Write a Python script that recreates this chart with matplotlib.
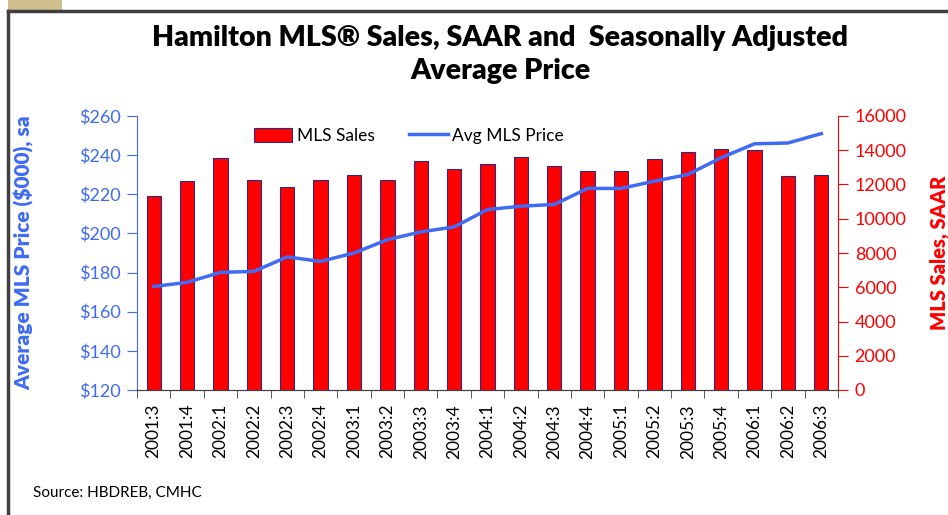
import matplotlib.pyplot as plt
import matplotlib.patches as mpatches
import numpy as np

plt.rcParams['font.family'] = ['Lato', 'DejaVu Sans']

# Data
quarters = ['2001:3', '2001:4', '2002:1', '2002:2', '2002:3', '2002:4',
            '2003:1', '2003:2', '2003:3', '2003:4', '2004:1', '2004:2',
            '2004:3', '2004:4', '2005:1', '2005:2', '2005:3', '2005:4',
            '2006:1', '2006:2', '2006:3']
mls_sales = [11350, 12190, 13520, 12250, 11860, 12250, 12570, 12290, 13400,
             12920, 13170, 13620, 13070, 12800, 12800, 13460, 13910, 14050,
             14010, 12470, 12570]
avg_price = [172.9, 175.0, 180.1, 180.6, 188.0, 185.7, 190.0, 196.8, 200.8,
             203.3, 212.2, 213.9, 214.8, 223.0, 223.0, 226.7, 230.1, 238.7,
             245.8, 246.2, 251.0]

blue = '#3F6BF5'
red = '#FF0000'

fig = plt.figure(figsize=(9.48, 5.15), dpi=100)

# frame decorations
fig.add_artist(mpatches.Rectangle((8 / 948, 1 - 10 / 515), 54 / 948, 10 / 515,
                                  transform=fig.transFigure, color='#CFBF8F', lw=0))
fig.add_artist(plt.Line2D([8 / 948, 1], [1 - 11 / 515] * 2, transform=fig.transFigure,
                          color='#404040', lw=2.5))
fig.add_artist(plt.Line2D([8 / 948] * 2, [0, 1 - 11 / 515], transform=fig.transFigure,
                          color='#404040', lw=2.5))

ax = fig.add_axes([137 / 948, 1 - 390 / 515, 701 / 948, 274 / 515])
ax2 = ax.twinx()
ax.set_zorder(ax2.get_zorder() + 1)
ax.patch.set_visible(False)

x = np.arange(len(quarters))
bars = ax2.bar(x, mls_sales, width=0.43, color=red, edgecolor='#2B2B7F', lw=0.8,
               label='MLS Sales')
line, = ax.plot(x, avg_price, color=blue, lw=2.5, label='Avg MLS Price')

ax.set_xlim(-0.5, len(quarters) - 0.5)
ax.set_ylim(120, 260)
ax.set_yticks(np.arange(120, 261, 20))
ax.set_yticklabels(['$%d' % v for v in range(120, 261, 20)])
ax2.set_ylim(0, 16000)
ax2.set_yticks(np.arange(0, 16001, 2000))

ax.set_xticks(x)
ax.set_xticklabels(quarters, rotation=90, fontsize=12.5)
ax.set_xticks(np.arange(-0.5, len(quarters), 1), minor=True)
ax.tick_params(axis='x', which='major', length=0, pad=10)
ax.tick_params(axis='x', which='minor', length=6, color='#404040')

ax.tick_params(axis='y', colors=blue, labelsize=13, length=7, direction='out', pad=5)
ax2.tick_params(axis='y', colors=red, labelsize=13, length=7, direction='out', pad=5)
for a in (ax, ax2):
    a.spines['top'].set_visible(False)
    a.spines['bottom'].set_color('#404040')
ax.spines['left'].set_color(blue)
ax.spines['right'].set_visible(False)
ax2.spines['left'].set_visible(False)
ax2.spines['right'].set_color(red)
ax2.tick_params(axis='x', which='both', length=0)

ax.set_ylabel('Average MLS Price ($000), sa', color=blue, fontsize=15,
              fontweight='heavy')
ax.yaxis.set_label_coords(-0.147, 0.5)
ax2.set_ylabel('MLS Sales, SAAR', color=red, fontsize=14.5, fontweight='heavy')
ax2.yaxis.set_label_coords(1.130, 0.5)

ax.legend([bars, line], ['MLS Sales', 'Avg MLS Price'], loc='upper left',
          bbox_to_anchor=(0.145, 1.015), ncol=2, frameon=False, fontsize=12.5,
          handlelength=2.2, handleheight=0.9, columnspacing=2.0, handletextpad=0.25)

fig.text(500 / 948, 1 - 38 / 515, 'Hamilton MLS\u00ae Sales, SAAR and  Seasonally Adjusted',
         ha='center', va='center', fontsize=20.5, fontweight='heavy')
fig.text(500 / 948, 1 - 71 / 515, 'Average Price', ha='center', va='center',
         fontsize=20.5, fontweight='heavy')
fig.text(33 / 948, 1 - 493 / 515, 'Source: HBDREB, CMHC', ha='left', va='center',
         fontsize=11)

fig.savefig('out.png', dpi=100)
